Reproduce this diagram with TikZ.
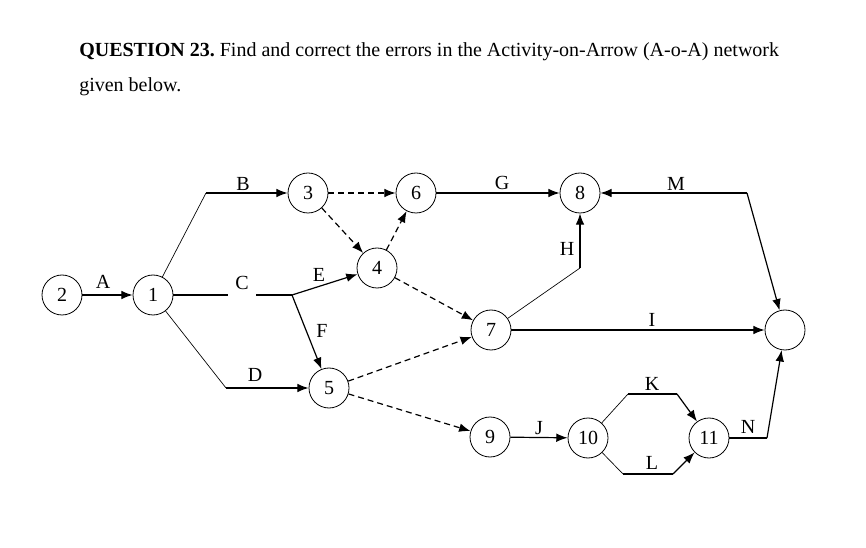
\documentclass[tikz,border=0pt]{standalone}
\usepackage{fontspec}
\setmainfont{Liberation Serif}
\usetikzlibrary{arrows.meta}
\usetikzlibrary{positioning}

\begin{document}
\begin{tikzpicture}[
			x=0.75pt, y=-0.75pt,
			font=\fontsize{15}{18}\selectfont,
			event/.style = {draw, circle, line width=0.6pt, minimum size=30pt, inner sep=0pt},
			act/.style = {line width=0.9pt, -{Latex[length=8.5pt,width=6.5pt]}},
			leg/.style = {line width=0.5pt},
			seg/.style = {line width=0.9pt},
			dummy/.style = {act, dash pattern=on 4.5pt off 3pt},
			lbl/.style = {inner sep=1pt}
			]
			\useasboundingbox (0,0) rectangle (866,548);
			
			\node[anchor=base west, inner sep=0pt] (title) at (79,57) {\textbf{QUESTION 23.}\ Find and correct the errors in the Activity-on-Arrow (A-o-A) network};
			\node[anchor=base west, inner sep=0pt] (title2) at (79,92) {given below.};
			
			% events
			\node[event] (2) at (62,295) {2};
			\node[event] (1) at (153,295) {1};
			\node[event] (3) at (308,193) {3};
			\node[event] (6) at (416,193) {6};
			\node[event] (8) at (580,193) {8};
			\node[event] (4) at (377,268) {4};
			\node[event] (7) at (491,330) {7};
			\node[event] (5) at (329,388) {5};
			\node[event] (9) at (490,437) {9};
			\node[event] (10) at (588,438) {10};
			\node[event] (11) at (709,438) {11};
			\node[event] (end) at (785,330) {};
			
			% bends
			\coordinate (bB) at (206,193);
			\coordinate (cL) at (228,295);
			\coordinate (cR) at (256,295);
			\coordinate (jn) at (292,295);
			\coordinate (bD) at (226,388);
			\coordinate (bH) at (580,268);
			\coordinate (bM) at (747,193);
			\coordinate (kL) at (628,394);
			\coordinate (kR) at (677,394);
			\coordinate (lL) at (623,474);
			\coordinate (lR) at (673,474);
			\coordinate (bN) at (767,438);
			
			% activities
			\draw[act] (2) -- (1);
			\draw[leg] (1) -- (bB);
			\draw[act] (bB) -- (3);
			\draw[seg] (1) -- (cL);
			\draw[seg] (cR) -- (jn);
			\draw[act] (jn) -- (4);
			\draw[act] (jn) -- (5);
			\draw[leg] (1) -- (bD);
			\draw[act] (bD) -- (5);
			\draw[act] (6) -- (8);
			\draw[leg] (7) -- (bH);
			\draw[act] (bH) -- (8);
			\draw[act] (7) -- (end);
			\draw[act] (bM) -- (8);
			\draw[act] (bM) -- (end);
			\draw[act] (9) -- (10);
			\draw[leg] (10) -- (kL);
			\draw[seg] (kL) -- (kR);
			\draw[act] (kR) -- (11);
			\draw[leg] (10) -- (lL);
			\draw[seg] (lL) -- (lR);
			\draw[act] (lR) -- (11);
			\draw[seg] (11) -- (bN);
			\draw[act] (bN) -- (end);
			
			% dummies
			\draw[dummy] (3) -- (6);
			\draw[dummy] (3) -- (4);
			\draw[dummy] (4) -- (6);
			\draw[dummy] (4) -- (7);
			\draw[dummy] (5) -- (7);
			\draw[dummy] (5) -- (9);
			
			% labels
			\node[lbl] (lA) at (103,282) {A};
			\node[lbl] (lB) at (243,184) {B};
			\node[lbl] (lC) at (242,283) {C};
			\node[lbl] (lD) at (255,375) {D};
			\node[lbl] (lE) at (319,275) {E};
			\node[lbl] (lF) at (322,331) {F};
			\node[lbl] (lG) at (502,183) {G};
			\node[lbl] (lH) at (567,249) {H};
			\node[lbl] (lI) at (652,320) {I};
			\node[lbl] (lJ) at (539,428) {J};
			\node[lbl] (lK) at (652,384) {K};
			\node[lbl] (lL) at (652,463) {L};
			\node[lbl] (lM) at (676,184) {M};
			\node[lbl] (lN) at (748,427) {N};
		\end{tikzpicture}
\end{document}
